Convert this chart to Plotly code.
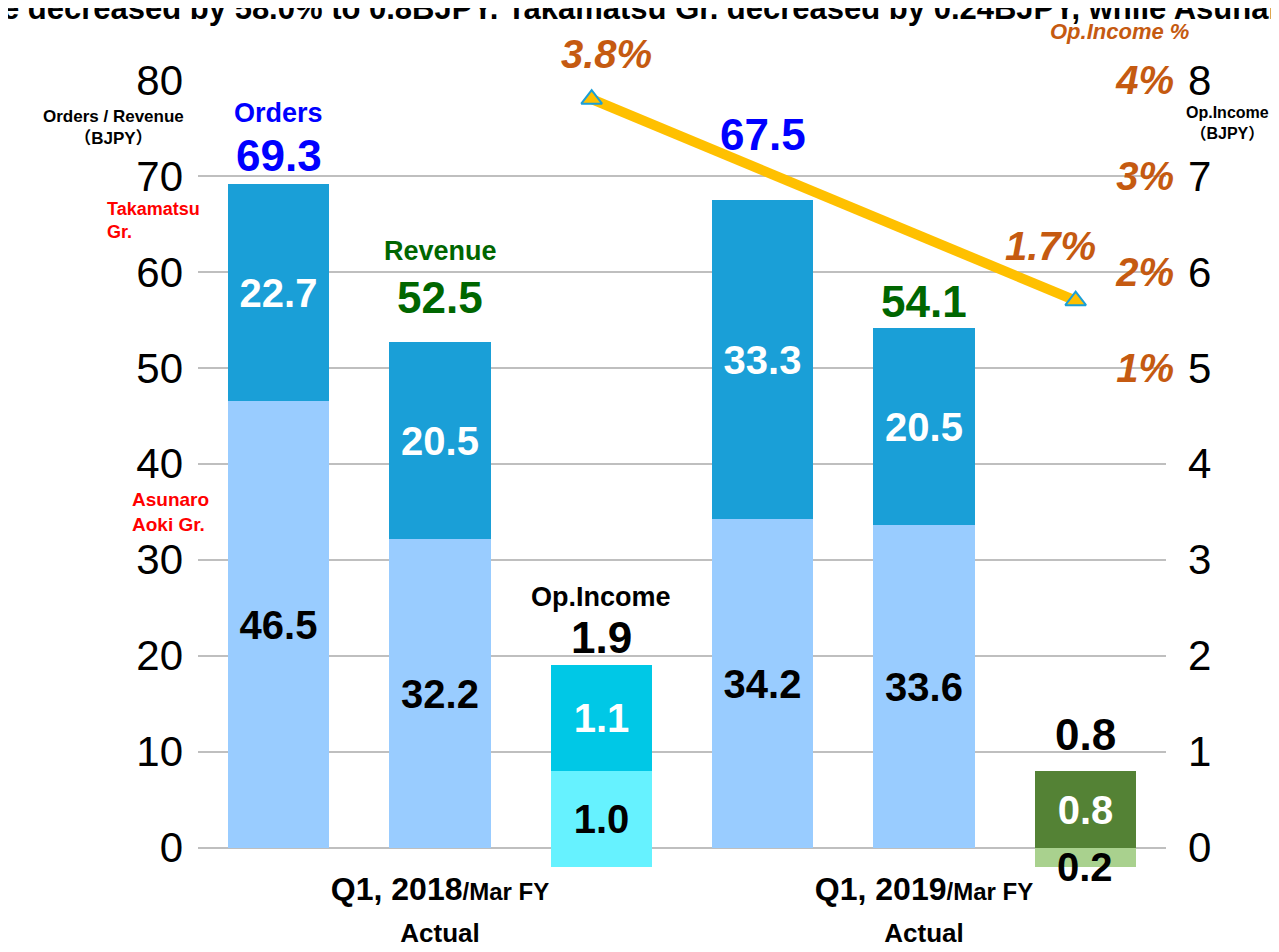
import plotly.graph_objects as go

# ---------------- data ----------------
slots = [0, 1, 2, 3, 4, 5]
bar_kinds = ["Orders", "Revenue", "Op.Income", "Orders", "Revenue", "Op.Income"]
period_labels = ["Q1, 2018", "Q1, 2019"]
period_suffix = "/Mar FY"
period_sub = "Actual"

# Orders / Revenue (BJPY), left axis
or_slots = [0, 1, 3, 4]
or_asunaro = [46.5, 32.2, 34.2, 33.6]
or_takamatsu = [22.7, 20.5, 33.3, 20.5]
or_total = [69.3, 52.5, 67.5, 54.1]

# Operating income (BJPY), right axis
oi_slots = [2, 5]
oi_asunaro = [1.0, -0.2]
oi_takamatsu = [1.1, 0.8]
oi_total = [1.9, 0.8]

# Operating income margin (%)
pct_slots = [2, 5]
pct_values = [3.8, 1.7]

left_ticks = [0, 10, 20, 30, 40, 50, 60, 70, 80]
right_ticks = [0, 1, 2, 3, 4, 5, 6, 7, 8]
pct_ticks = [1, 2, 3, 4]

title_text = "e decreased by 58.0% to 0.8BJPY. Takamatsu Gr. decreased by 0.24BJPY, while Asunaro"

# ---------------- style ----------------
FONT = "Liberation Sans Narrow, Arial Narrow, Liberation Sans, Arial, Noto Sans CJK JP, sans-serif"
WIDE = "Liberation Sans, Arial, Noto Sans CJK JP, sans-serif"
C_DARK = "#1A9FD7"
C_LIGHT = "#99CCFF"
C_CYAN = "#00C8E6"
C_CYAN_L = "#66F2FF"
C_GREEN = "#548235"
C_GREEN_L = "#A9D18E"
C_ORANGE = "#C55A11"
C_BLUE = "#0000FF"
C_REV = "#006600"
BW = 0.63
LINE_DX = -0.06  # the margin line sits slightly left of the op-income bars

# derived op-income segment geometry
oi_tak_base = [t - k for t, k in zip(oi_total, oi_takamatsu)]
oi_asu_base = [b - abs(a) for b, a in zip(oi_tak_base, oi_asunaro)]
oi_asu_h = [abs(a) for a in oi_asunaro]

fig = go.Figure()

fig.add_trace(go.Bar(
    x=or_slots, y=or_asunaro, base=[0] * len(or_slots), width=BW,
    marker=dict(color=C_LIGHT, line=dict(width=0)),
    text=[f"{v:.1f}" for v in or_asunaro], textposition="inside",
    insidetextanchor="middle", constraintext="none",
    textfont=dict(family=FONT, size=40, color="black", weight="bold"),
    yaxis="y", showlegend=False, hoverinfo="skip", name="Asunaro Aoki Gr."))

fig.add_trace(go.Bar(
    x=or_slots, y=or_takamatsu, base=or_asunaro, width=BW,
    marker=dict(color=C_DARK, line=dict(width=0)),
    text=[f"{v:.1f}" for v in or_takamatsu], textposition="inside",
    insidetextanchor="middle", constraintext="none",
    textfont=dict(family=FONT, size=40, color="white", weight="bold"),
    yaxis="y", showlegend=False, hoverinfo="skip", name="Takamatsu Gr."))

fig.add_trace(go.Bar(
    x=oi_slots, y=oi_asu_h, base=oi_asu_base, width=BW,
    marker=dict(color=[C_CYAN_L, C_GREEN_L], line=dict(width=0)),
    text=[f"{abs(v):.1f}" for v in oi_asunaro], textposition=["inside", "none"],
    insidetextanchor="middle", constraintext="none",
    textfont=dict(family=FONT, size=40, color="black", weight="bold"),
    yaxis="y2", showlegend=False, hoverinfo="skip", cliponaxis=False,
    name="Op.Income Asunaro"))

fig.add_trace(go.Bar(
    x=oi_slots, y=oi_takamatsu, base=oi_tak_base, width=BW,
    marker=dict(color=[C_CYAN, C_GREEN], line=dict(width=0)),
    text=[f"{v:.1f}" for v in oi_takamatsu], textposition="inside",
    insidetextanchor="middle", constraintext="none",
    textfont=dict(family=FONT, size=40, color="white", weight="bold"),
    yaxis="y2", showlegend=False, hoverinfo="skip", name="Op.Income Takamatsu"))

fig.add_trace(go.Scatter(
    x=[s + LINE_DX for s in pct_slots], y=pct_values, mode="lines+markers", yaxis="y3",
    line=dict(color="#FFC000", width=10),
    marker=dict(symbol="triangle-up", size=18, color="#FFC000",
                line=dict(color="#1A9FD7", width=2)),
    cliponaxis=False, showlegend=False, hoverinfo="skip", name="Op.Income %"))

ann = []

def add(x, y, text, size, color, yref="y", xref="x", xshift=0, yshift=0,
        italic=False, family=FONT, xanchor="center", yanchor="middle", align="center"):
    ann.append(dict(x=x, y=y, xref=xref, yref=yref, text=text, showarrow=False,
                    xshift=xshift, yshift=yshift, xanchor=xanchor, yanchor=yanchor,
                    align=align,
                    font=dict(family=family, size=size, color=color, weight="bold",
                              style="italic" if italic else "normal")))

# totals for orders / revenue
tot_colors = [C_BLUE, C_REV, C_BLUE, C_REV]
tot_shift = [27, 46, 65, 27]
for s, t, c, sh in zip(or_slots, or_total, tot_colors, tot_shift):
    add(s, t, f"{t:.1f}", 44, c, yshift=sh)
add(or_slots[0], or_total[0], bar_kinds[0], 27, C_BLUE, yshift=70)
add(or_slots[1], or_total[1], bar_kinds[1], 27, C_REV, yshift=93)

# op income totals
oi_shift = [28, 36]
for s, t, sh in zip(oi_slots, oi_total, oi_shift):
    add(s, t, f"{t:.1f}", 44, "black", yref="y2", yshift=sh)
add(oi_slots[0], oi_total[0], bar_kinds[2], 27, "black", yref="y2", yshift=68)
# negative segment label
add(oi_slots[1], oi_asu_base[1], f"{abs(oi_asunaro[1]):.1f}", 40, "black", yref="y2")

# margin labels
pct_xs = [15, -25]
pct_ys = [45, 55]
for s, v, dx, dy in zip(pct_slots, pct_values, pct_xs, pct_ys):
    add(s + LINE_DX, v, f"{v:.1f}%", 40, C_ORANGE, yref="y3", xshift=dx, yshift=dy,
        italic=True)

# axis captions
add(-0.085, 0.94, "Orders / Revenue<br>（BJPY）", 17, "black", xref="paper", yref="paper")
add(-0.094, 0.822, "Takamatsu<br>Gr.", 18, "#FF0000", xref="paper", yref="paper",
    xanchor="left", align="left")
add(-0.069, 0.4505, "Asunaro<br>Aoki Gr.", 19, "#FF0000", xref="paper", yref="paper",
    xanchor="left", align="left")
add(0.932, 1.062, "Op.Income %", 22, C_ORANGE, xref="paper", yref="paper", italic=True)
add(1.041, 0.9455, "Op.Income<br>（BJPY）", 16, "black", xref="paper", yref="paper")

# cropped headline
add(-0.2, 1.0655, title_text, 31, "black", xref="paper", yref="paper",
    family=WIDE, xanchor="left", yanchor="bottom", align="left")

tick_text = [f"<b>{p}<span style='font-size:24px'>{period_suffix}</span><br>"
             f"<span style='font-size:26px'>{period_sub}</span></b>" for p in period_labels]

lo, hi = -2.03, 80.0
fig.update_layout(
    width=1279, height=952,
    margin=dict(l=190, r=100, t=72, b=72),
    paper_bgcolor="white", plot_bgcolor="white",
    barmode="overlay", bargap=0,
    font=dict(family=FONT, color="black"),
    xaxis=dict(domain=[0, 968 / 989], range=[-0.5, 5.5], tickvals=[1, 4],
               ticktext=tick_text, showgrid=False, zeroline=False, showline=False,
               ticks="", tickfont=dict(family=FONT, size=32, color="black")),
    yaxis=dict(range=[lo, hi], tickvals=left_ticks, showgrid=True,
               gridcolor="#BFBFBF", gridwidth=2, zeroline=False, showline=False,
               ticks="", ticklabelstandoff=14,
               tickfont=dict(family=FONT, size=42, color="black")),
    yaxis2=dict(range=[lo / 10, hi / 10], tickvals=right_ticks, overlaying="y",
                side="right", anchor="free", position=1.0, showgrid=False,
                zeroline=False, showline=False, ticks="", ticklabelstandoff=0,
                tickfont=dict(family=FONT, size=42, color="black")),
    yaxis3=dict(range=[lo / 10 - 4, hi / 10 - 4], tickvals=pct_ticks,
                ticktext=[f"{t}%" for t in pct_ticks], overlaying="y",
                side="right", anchor="free", position=0.99, showgrid=False,
                zeroline=False, showline=False, ticks="", ticklabelposition="inside",
                ticklabeloverflow="allow",
                tickfont=dict(family=FONT, size=40, color=C_ORANGE, weight="bold",
                              style="italic")),
    annotations=ann,
)

fig.write_html("out.html")
